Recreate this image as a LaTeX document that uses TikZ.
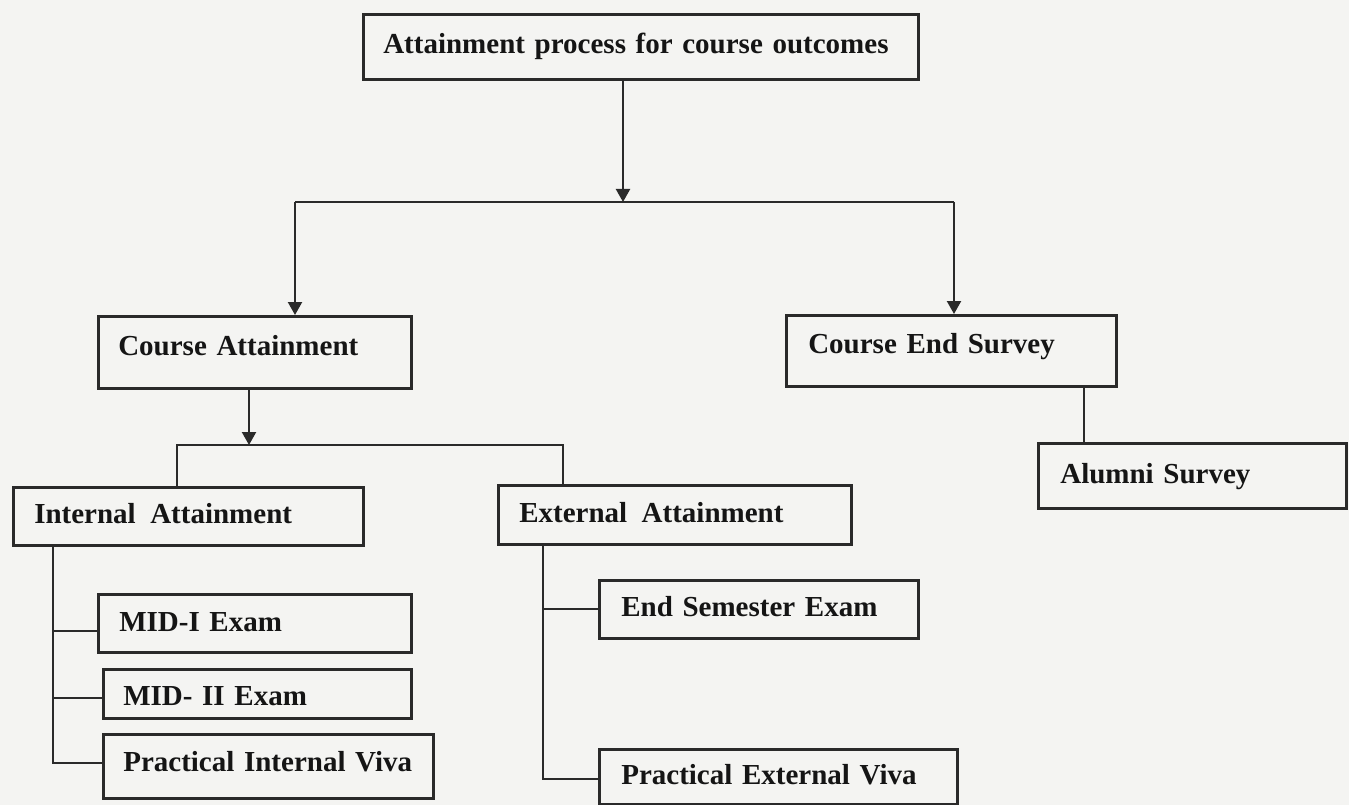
\documentclass[tikz,border=0pt]{standalone}
\usepackage{fontspec}
\setmainfont{Liberation Serif}
\usetikzlibrary{arrows.meta}
\definecolor{bgc}{HTML}{F4F4F2}
\definecolor{ink}{HTML}{151515}
\definecolor{edge}{HTML}{2A2A2A}
\tikzset{
  bx/.style={draw=edge, line width=2.6pt, anchor=north west, inner ysep=0pt,
    align=left, text=ink, text height=20pt,
    font=\fontsize{29}{34}\selectfont\bfseries},
  ln/.style={draw=edge, line width=2.2pt},
  arr/.style={ln, -{Triangle[length=13pt,width=14pt]}}
}
\begin{document}
\begin{tikzpicture}[x=1pt,y=-1pt]
\useasboundingbox (0,0) rectangle (1349,805);
\fill[bgc] (0,0) rectangle (1349,805);

\node[bx, minimum width=555pt, minimum height=65pt, inner xsep=20pt, text width=515pt, text depth=7pt] (top) at (362,13) {Attainment process for course outcomes};
\node[bx, minimum width=313pt, minimum height=72pt, inner xsep=20pt, text width=273pt, text depth=14pt] (ca) at (97,315) {Course Attainment};
\node[bx, minimum width=330pt, minimum height=71pt, inner xsep=22pt, text width=286pt, text depth=15pt] (ces) at (785,314) {Course End Survey};
\node[bx, minimum width=308pt, minimum height=65pt, inner xsep=22pt, text width=264pt, text depth=5pt] (alu) at (1037,442) {Alumni Survey};
\node[bx, minimum width=350pt, minimum height=58pt, inner xsep=21pt, text width=308pt, text depth=6pt] (int) at (12,486) {Internal\enspace Attainment};
\node[bx, minimum width=353pt, minimum height=59pt, inner xsep=21pt, text width=311pt, text depth=5pt] (ext) at (497,484) {External\enspace Attainment};
\node[bx, minimum width=313pt, minimum height=58pt, inner xsep=21pt, text width=271pt, text depth=4pt] (m1) at (97,593) {MID-I Exam};
\node[bx, minimum width=308pt, minimum height=49pt, inner xsep=20pt, text width=268pt, text height=26pt, text depth=3pt] (m2) at (102,668) {MID- II Exam};
\node[bx, minimum width=330pt, minimum height=64pt, inner xsep=20pt, text width=290pt, text depth=10pt] (piv) at (102,733) {Practical Internal Viva};
\node[bx, minimum width=319pt, minimum height=58pt, inner xsep=22pt, text width=275pt, text depth=6pt] (es) at (598,579) {End Semester Exam};
\node[bx, minimum width=358pt, minimum height=55pt, inner xsep=22pt, text width=314pt, text depth=5pt] (pev) at (598,748) {Practical External Viva};

% top level
\coordinate (j0) at (623,202);
\coordinate (jl) at (295,202);
\coordinate (jr) at (954,202);
\draw[arr] (top.south -| j0) -- (j0);
\draw[ln] (jl) -- (jr);
\draw[arr] (jl) -- (ca.north -| jl);
\draw[arr] (jr) -- (ces.north -| jr);

% course attainment split
\coordinate (k0) at (249,445);
\coordinate (kl) at (177,445);
\coordinate (kr) at (563,445);
\draw[arr] (ca.south -| k0) -- (k0);
\draw[ln] (int.north -| kl) -- (kl) -- (kr) -- (ext.north -| kr);

% internal branch
\coordinate (iv) at (53,0);
\draw[ln] (int.south -| iv) -- ([yshift=3pt]piv.west -| iv) -- ([yshift=3pt]piv.west);
\draw[ln] ([yshift=-8pt]m1.west -| iv) -- ([yshift=-8pt]m1.west);
\draw[ln] ([yshift=-4.5pt]m2.west -| iv) -- ([yshift=-4.5pt]m2.west);

% external branch
\coordinate (ev) at (543,0);
\draw[ln] (ext.south -| ev) -- ([yshift=-2.5pt]pev.west -| ev) -- ([yshift=-2.5pt]pev.west);
\draw[ln] (es.west -| ev) -- (es.west);

% survey
\coordinate (cv) at (1084,0);
\draw[ln] (ces.south -| cv) -- (alu.north -| cv);
\end{tikzpicture}
\end{document}
